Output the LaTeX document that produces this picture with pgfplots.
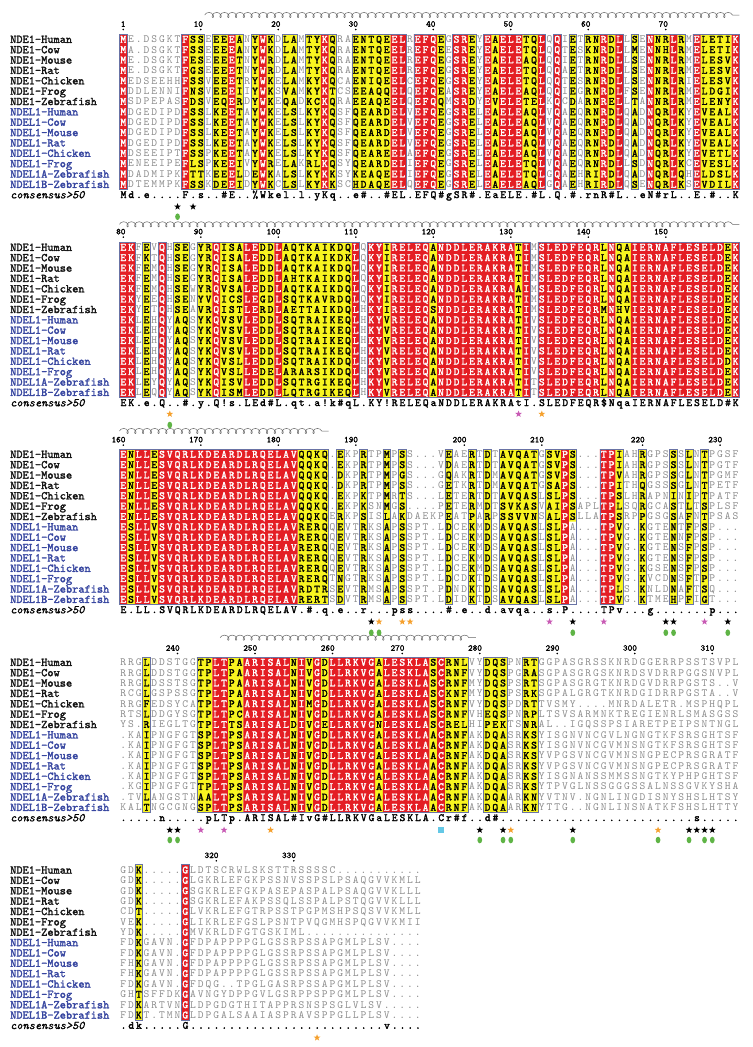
\documentclass[border=0pt]{standalone}
\usepackage{fontspec}
\usepackage{pgfplots}
\pgfplotsset{compat=1.18}
\usetikzlibrary{decorations.pathmorphing}

\newfontfamily\seqtt{lmmono10-regular.otf}
\newfontfamily\seqttb[FakeBold=2]{lmmono10-regular.otf}
\newfontfamily\seqtti[FakeBold=1]{lmmono10-italic.otf}

\definecolor{espred}{RGB}{228,30,36}
\definecolor{espyellow}{RGB}{248,244,32}
\definecolor{framecol}{RGB}{105,115,165}
\definecolor{seqgrey}{RGB}{140,140,140}
\definecolor{namek}{RGB}{20,20,20}
\definecolor{nameb}{RGB}{55,70,160}
\definecolor{starorange}{RGB}{245,160,45}
\definecolor{starmag}{RGB}{200,90,180}
\definecolor{dotgreen}{RGB}{95,180,70}
\definecolor{sqcyan}{RGB}{100,200,230}

\newcommand\seqfont{\fontsize{11}{11}\selectfont\seqtt}
\newcommand\seqboldfont{\fontsize{11}{11}\selectfont\seqttb}
\newcommand\namefont{\fontsize{11.8}{11.8}\selectfont\seqttb}
\newcommand\conslabfont{\fontsize{11.8}{11.8}\selectfont\seqtti}
\newcommand\rulerfont{\fontsize{8.8}{8.8}\selectfont\seqttb}

\def\pitch{10.36}
\def\yzA{39.3}\def\yzB{247.3}\def\yzC{454.3}\def\yzD{662.3}\def\yzE{870.0}

\makeatletter
\newcommand\seq[1]{\seq@loop#1\relax}
\def\seq@loop#1{\ifx\relax#1\else\makebox[7.75pt]{#1}\expandafter\seq@loop\fi}

\newcount\rowidx
\def\dr@end{}
\def\dr@endmark{\dr@end}
\newcommand\drawrows[3]{%
  \rowidx=0
  \def\dr@y{#2}%
  \tikzset{drstyle/.style={#3}}%
  \expandafter\dr@loop#1\dr@end}
\def\dr@loop#1{%
  \def\dr@arg{#1}%
  \ifx\dr@arg\dr@endmark
  \else
    \advance\rowidx by 1
    \pgfmathsetmacro\yy{\dr@y+(\the\rowidx-1)*\pitch+3.35}%
    \node[anchor=base west, inner sep=0pt, outer sep=0pt, drstyle] at (axis cs:0.5,\yy) {\seq{#1}};%
    \expandafter\dr@loop
  \fi}
\makeatother

\pgfdeclareplotmark{fstar}{%
  \pgfpathmoveto{\pgfpointpolar{90}{\pgfplotmarksize}}%
  \pgfpathlineto{\pgfpointpolar{126}{0.42\pgfplotmarksize}}%
  \pgfpathlineto{\pgfpointpolar{162}{\pgfplotmarksize}}%
  \pgfpathlineto{\pgfpointpolar{198}{0.42\pgfplotmarksize}}%
  \pgfpathlineto{\pgfpointpolar{234}{\pgfplotmarksize}}%
  \pgfpathlineto{\pgfpointpolar{270}{0.42\pgfplotmarksize}}%
  \pgfpathlineto{\pgfpointpolar{306}{\pgfplotmarksize}}%
  \pgfpathlineto{\pgfpointpolar{342}{0.42\pgfplotmarksize}}%
  \pgfpathlineto{\pgfpointpolar{18}{\pgfplotmarksize}}%
  \pgfpathlineto{\pgfpointpolar{54}{0.42\pgfplotmarksize}}%
  \pgfpathclose\pgfusepathqfill}
\pgfdeclareplotmark{ell}{%
  \pgfpathellipse{\pgfpointorigin}{\pgfqpoint{0.72\pgfplotmarksize}{0pt}}{\pgfqpoint{0pt}{\pgfplotmarksize}}%
  \pgfusepathqfill}

\tikzset{helix/.style={draw=black!60, line width=0.5pt, decorate,
  decoration={coil, aspect=0.9, segment length=7.75pt, amplitude=2.6pt}}}

\newcommand\buildpaths[3]{%
  \gdef\tmpcoords{}\gdef\tmpclip{}%
  \foreach \pA/\pB/\pC/\pD in {#1}{%
    \pgfmathsetmacro\tXa{\pA-0.5}\pgfmathsetmacro\tXb{\pB+0.5}%
    \pgfmathsetmacro\tYa{#2+(\pC-1.5)*\pitch}\pgfmathsetmacro\tYb{#2+(\pD-0.5)*\pitch}%
    \xdef\tmpcoords{\tmpcoords (\tXa,\tYa) (\tXb,\tYa) (\tXb,\tYb) (\tXa,\tYb) (\tXa,\tYa) (nan,nan)}%
    \xdef\tmpclip{\tmpclip (axis cs:\tXa,\tYa) rectangle (axis cs:\tXb,\tYb)}%
  }%
  \expandafter\global\expandafter\let\csname #3c\endcsname\tmpcoords
  \expandafter\global\expandafter\let\csname #3k\endcsname\tmpclip}

\newcommand\polyplot[2]{\edef\tmpp{\noexpand\addplot[\unexpanded{#1}] coordinates {#2};}\tmpp}

\newcommand\clipdraw[4]{%
  \begin{scope}%
    \edef\tmpclipcmd{\noexpand\clip #1;}\tmpclipcmd
    \drawrows{#2}{#3}{#4}%
  \end{scope}}

\def\names{NDE1-Human,NDE1-Cow,NDE1-Mouse,NDE1-Rat,NDE1-Chicken,NDE1-Frog,NDE1-Zebrafish,NDEL1-Human,NDEL1-Cow,NDEL1-Mouse,NDEL1-Rat,NDEL1-Chicken,NDEL1-Frog,NDEL1A-Zebrafish,NDEL1B-Zebrafish}

\newcommand\drawlabels[2]{%
  \foreach \nm [count=\i] in \names {%
    \pgfmathsetmacro\yy{#1+(\i-1)*\pitch+3.6}%
    \ifnum\i<8\relax\def\nc{namek}\else\def\nc{nameb}\fi
    \node[anchor=base west, inner sep=0pt, font=\namefont, text=\nc] at (axis cs:-13.62,\yy) {\nm};%
  }%
  \pgfmathsetmacro\yy{#1+15*\pitch+3.6}%
  \node[anchor=base west, inner sep=0pt, font=\conslabfont, text=black] at (axis cs:-13.62,\yy) {consensus>50};%
  \pgfmathsetmacro\yy{#1+15*\pitch+3.35}%
  \node[anchor=base west, inner sep=0pt, font=\seqboldfont, text=black] at (axis cs:0.5,\yy) {\expandafter\seq\expandafter{#2}};%
}

\newcommand\ruler[2]{%
  \foreach \c/\lab in {#1}{%
    \pgfmathsetmacro\cx{\c+0.3}%
    \node[anchor=base east, inner sep=0pt, font=\rulerfont] at (axis cs:\cx,#2) {\lab};}}

\def\rowsA{%
{ME.DSGKTFSSEEEEANYWKDLAMTYKQRAENTQEELREFQEGSREYEAELETQLQQIETRNRDLLSENNRLRMELETIK}%
{MA.DSGKTFSSEEEEANYWKDLAMTYKQRAENTQEELREFQEESREYEAELETQLQQTESKNRDLLMENNHLRMELETIK}%
{ME.DSGKTFESEEEETNYWRDLAMTYKQRAENTQEELREFQEGSREYEAELEAQLQQIETRNRDLLSENNRLRMELESVK}%
{ME.DSGKTFGSEEEETNYWRDLAMTYKQRAENTQEELREFQEGSREYEAELETQLQQAETRNRDLLSENNRLRMELESVK}%
{MEDSEEHHFSSVEEETRYWKELAMKYKQCAENIQEELCEFQEGSREYEAELETQLQQTESRNRDLLSENNRLRIELESVK}%
{MDDLENNIFNSVEEEIIYWKSVAMKYKTCSEEAQQELQEFQEASREYEAELEAQLQQIEGRNRDLFSENNRLRMELDGIK}%
{MSDPEPASFDSVEQERDYWKEQADKCKQRAEEAQEELQEFQQMSRDYEVELETELKQCDARNRELLTANNRLRMELENYK}%
{MDGEDIPDFSSLKEETAYWKELSLKYKQSFQEARDELVEFQEGSRELEAELEAQLVQAEQRNRDLQADNQRLKYEVEALK}%
{MDGEDIPDFSSLKEETAYWKELSLKYKQSFQEARDELVEFQEGSRELEAELEAQLVQAEQRNRDLQADNQRLKYEVEALK}%
{MDGEDIPDFSSLKEETAYWKELSLKYKQSFQEARDELVEFQEGSRELEAELEAQLVQAEQRNRDLQADNQRLKYEVEALK}%
{MDGEDIPDFSSLKEETAYWKELSLKYKQSFQEARDELVEFQEGSRELEAELEAQLVQAEQRNRDLQADNQRLKYEVEALK}%
{MDSEEIPTFSSPKEETAYWKELSLKYKQSFQEAREELAEFQEGSRELEAELEAQLVQAEQRNRDLQADNQRLKYEVETLK}%
{MENEEIPEFLSPKEEIVYWRELAKRLKQSYQEARDELIEFQEGSRELEAELETQLVQAEQRNRDLLSDNQRLKCEVESLK}%
{MDADMIPKFTTKEEELDEWKALSLKYKKSYKEAQEELIEFQEGSRELEAELETQLGQAEHRIRDLQADNQRLQHELDSLK}%
{MDTEMMPKFSSKDEEIDYWKCLSLKYKKSCHDAQEELQEFQEGSRELEAELEAQLGQAEHRIRDLQSENQRLKSEVDILK}}
\def\consA{Md.e....F.s..\#E..\%Wkel.l.yKq..e\#..\#EL.EFQ\#gSR\#.EaELE.\#L.Q.\#.rnR\#L..eN\#rL..E.\#..K}

\def\rowsB{%
{EKFEVQHSEGYRQISALEDDLAQTKAIKDQLQKYIRELEQANDDLERAKRATIMSLEDFEQRLNQAIERNAFLESELDEK}%
{EKFKTQHSEGYRQISALEDDLAQTKAIKDKLQKYIRELEQANDDLERAKRATIMSLEDFEQRLNQAIERNAFLESELDEK}%
{EKFEMQHSEGYRQISALEDDLAQTKAIKDQLQKYIRELEQANDDLERAKRATIMSLEDFEQRLNQAIERNAFLESELDEK}%
{EKFEMQHSEGYRQISALEDDLAHTKAIKDQLQKYIRELEQANDDLERAKRATIMSLEDFEQRLNQAIERNAFLESELDEK}%
{EKFEMQHSEWYRQVSALEDDLAQTKAIKDQLQKYIRELEQANDDLERAKRAAIMSLEDFEQRLNQAIERNAFLESELDEK}%
{EKYEEQHSENYVQICSLEGDLSQTKAVRDQLQKYIRELEQANDDLERAKRATIMSLEDFEQRLNQAIERNAFLESELDEK}%
{EKYETQHSEAVRQISTLERDLAETTAIKDQLHKYIRELEQSNDDLERAKRATIMSLEDFEQRMNHVIERNAFLESELDEK}%
{EKLEHQYAQSYKQVSVLEDDLSQTRAIKEQLHKYVRELEQANDDLERAKRATIVSLEDFEQRLNQAIERNAFLESELDEK}%
{EKLEHQYAQSYKQVSVLEDDLSQTRAIKEQLHKYVRELEQANDDLERAKRATIVSLEDFEQRLNQAIERNAFLESELDEK}%
{EKLEHQYAQSYKQVSVLEDDLSQTRAIKEQLHKYVRELEQANDDLERAKRATIVSLEDFEQRLNQAIERNAFLESELDEK}%
{EKLEHQYAQSYKQVSVLEDDLSQTRAIKEQLHKYVRELEQANDDLERAKRATIVSLEDFEQRLNQAIERNAFLESELDEK}%
{EKLEHQYAQSYKQVSLLEDDLSQTRAIKDQLHKYVRELEQANDDLERAKRATIVSLEDFEQRLNQAIERNAFLESELDDK}%
{EKLEHQYAQSYKQVSLLEDELARARSIKDQLHKYVRELEQANDDLERAKRATIVSLEDFEQRLNQAIERNAFLESELDEK}%
{EKLEYQYAQSYKQISVLEDDLSQTRGIKEQLHKYVRELEQANDDLERAKRATITSLEDFEQRLNQAIERNAFLESELDEK}%
{EKLEQQYAQSYKQISMLEDDLLQTRGIKEQLHKYVRELEQANDDLERAKRATITSLEDFEQRLNQAIERNAFLESELDEK}}
\def\consB{EK.e.Q..\#.y.Q!s.LEd\#L.qt.a!k\#qL.KY!RELEQaNDDLERAKRAtI.SLEDFEQR\$NqaIERNAFLESELD\#K}

\def\rowsC{%
{ENLLESVQRLKDEARDLRQELAVQQKQ.EKPRTPMPSS...VEAERTDTAVQATGSVPS...TPIAHRGPSSSLNTPGSF}%
{ENLLESVQRLKDEARDLRQELAVQQKQ.EKPRTPMPSS...VDAERTDTAVQATGSVPS...TPIAHRGPSSSLNTPGTF}%
{ENLLESVQRLKDEARDLRQELAVQQKQ.DKPRTPMPGS...GQAKRTDMAVQATGSVPS...TPVAHRGPSSGLNTPGMF}%
{ENLLESVQRLKDEARDLRQELAVQQKQ.DKPRTPMPSS...GETKRTDMAVQATGSAPS...TPITHQGSSSGLNTPETF}%
{ENLLESVQRLKDEARDLRQELAVQQKQ.EKPKTPMRTS...LETERTDTAVQASLSLPS...TPSLHRAPNINIPTPATF}%
{ENLLESVQRLKDEARDLRQELAVQQKQ.EKPKSNMGS....PETERMDTSVKASVAIPSAPLTPLSQRGCASTLTSPLSF}%
{ENLLESVQRLKDEARDLRQELAVQQKQERKPSISLAKDAEKPEATPARPSSVVNSALPSLLATPSRPPGSGSAFNTPSAS}%
{ESLLVSVQRLKDEARDLRQELAVRERQQEVTRKSAPSSPT.LDCEKMDSAVQASLSLPA...TPVG.KGTENTFPSP...}%
{ESLLVSVQRLKDEARDLRQELAVRERQQEVTRKSAPSSPT.LDCEKMDSAVQASLSLPA...TPVG.KGTENNFPSP...}%
{ESLLVSVQRLKDEARDLRQELAVRERQQEVTRKSAPSSPT.LDCEKMDSAVQASLSLPA...TPVG.KGTENSFPSP...}%
{ESLLVSVQRLKDEARDLRQELAVRERQQEVTRKSAPSSPT.LDCEKMDSAVQASLSLPA...TPVG.KGTENSFPSP...}%
{ESLLVSVQRLKDEARDLRQELAVRERQQEVTRKSAPSSPT.LDCEKMDSAVQASLSLPA...TPVG.KGSENSFPSP...}%
{ESLLVSVQRLKDEARDLRQELAVRERQTNGTRKSAPSSPT.LDCDKTDSAVQASLSLPA...TPVG.KVCDNSFTPP...}%
{ESLLVSVQRLKDEARDLRQELAVRDTRSEVTRMSAPSSPT.PDNDKTDSAVQASLSLPA...TPLS.KNLDNAFTSQ...}%
{ESLLVSVQRLKDEARDLRQELAVRERTSDVTRMSAPSSPT.LDIDKTDSAVQASLSLPA...TPVG.KTMEHPFIGT...}}
\def\consC{E.LL.SVQRLKDEARDLRQELAV.\#.q.e..r...pss....\#.e..d.avqa..s.P....TPv...g.......p...}

\def\rowsD{%
{RRGLDDSTGGTPLTPAARISALNIVGDLLRKVGALESKLASCRNLVYDQSPNRTGGPASGRSSKNRDGGERRPSSTSVPL}%
{RRGLDDSTGGTPLTPAARISALNIVGDLLRKVGALESKLASCRNFVYDQSPGRASGPASGRGSKNRDSVDRRPGGSNVPL}%
{RRGLDSSTSGTPLTPAARISALNIVGDLLRKVGALESKLASCRNFMYDQSPSRTSGPASGRGTKNRDGVDRRPGSTS..V}%
{RCGLGSPSSGTPLTPAARISALNIVGDLLRKVGALESKLASCKNFMYDQSPSRKSGPALGRGTKNRDGIDRRPGSTA..V}%
{RRGFEDSYCATPLTPAARISALNIMGDLLRKVGALESKLASCRNFVYDQSPDRTTVSMY....MNRDALETR.MSPHQPL}%
{RTSLDDGYSGTPLTPCARISALNIVGDLLRKVGALESKLASCRNFVHEQSPNRPLTSVSARMNKTREGIENRLSMASGSS}%
{YS.RIEGLTGTPLTTSARISALDIVGELLRKVGNLESKLASCRELHIPEKTSNRAL..IGQSSPSIARETPEIPSNTNGL}%
{.KAIPNGFGTSPLTPSARISALNIVGDLLRKVGALESKLAACRNFAKDQASRKSYISGNVNCGVLNGNGTKFSRSGHTSF}%
{.KAIPNGFGTSPLTPSARISALNIVGDLLRKVGALESKLAACRNFAKDQASRKSYISGNVNCGVMNSNGTKFSRSGHTSF}%
{.KAIPNGFGTSPLTPSARISALNIVGDLLRKVGALESKLAACRNFAKDQASRKSYVPGSVNCGVMNSNGPECPRSGRATF}%
{.KAIPNGFGTSPLTPSARISALNIVGDLLRKVGALESKLAACRNFAKDQASRKSYVPGSVNCGVMNSNGPECPRSGRATF}%
{.KAIPNGFGTSPLTPSARISALNIVGDLLRKVGALESKLAACRNFAKDQASRKSYISGNANSSMMSSNGTKYPHPGHTSF}%
{.KGIPNGFGTTPLTPSARISALNIVGDLLRKVGALESKLAACRNFAKDQASRKSYTPVGLNSSGGGSSALNSSGVKYSHA}%
{.TVLANGSTNAALTPSARISALNIVGDLLRKVGALESKLAACRNFAKDQAARKNYVTNV.NGNLINGDISNYSHSLHTSY}%
{KALTNGCGNGSPLTPSARISALNIVGDLLRKVGALESKLAACRNFAKDQAARKNYTTG..NGNLINSNATKFSHSLHTTY}}
\def\consD{.....n.....pLTp.ARISAL\#IvG\#LLRKVGaLESKLA.Cr\#f..d\#.........................s.....}

\def\rowsE{%
{GDK.....GLDTSCRWLSKSTTRSSSSC...........}%
{GDK.....GLGKRLEFGKPSSNVSSPSLPSAQGVVKMLL}%
{GDK.....GSGKRLEFGKPASEPASPALPSAQGVVKLLL}%
{GDK.....GSGKRLEFAKPSSQLSSPALPSTQGVVKLLL}%
{CDT.....GLVKRLEFGTRPSSTPGPMSHPSQSVVKMLL}%
{VEK.....GLIKRLEFGSLPSNTPVQGMHSPQGVVKMII}%
{YDK.....GMVKRLDFGTGSKIML...............}%
{FDKGAVN.GFDPAPPPPGLGSSRPSSAPGMLPLSV....}%
{FDKGAVN.GFDPAPPPPGLGSSRPSSAPGMLPLSV....}%
{FHKGAVN.GFDPAPPPPGLGSSRPSSAPGMLPLSV....}%
{FHKGAVN.GFDPAPPPPGLGSSRPSSAPGMLPLSV....}%
{FDKGAVN.GFDQG..TPGLGASRPSSAPGMLPLSV....}%
{GHTSFFDKGAVNGYDPPGVLGSRPPSPPGMLPLSV....}%
{FDKARTVNGLDPGDGTHITAPPRSNSPSGLVLSV.....}%
{FDKT.TMNGLDPGALSAAIASPRAVSPPGLLPLSV....}}
\def\consE{.dk.....G.........................v....}

\buildpaths{1/1/1/15,9/9/1/15,15/15/1/15,19/19/1/15,27/27/1/15,36/37/1/15,39/41/1/15,44/45/1/15,48/48/1/15,50/52/1/15,55/55/1/15,57/57/1/15,63/63/1/15,65/65/1/15,69/69/1/15,72/72/1/15,75/75/1/15,80/80/1/15}{\yzA}{AR}
\buildpaths{10/11/1/15,13/14/1/15,16/16/1/15,18/18/1/15,20/20/1/15,22/23/1/15,25/26/1/15,28/28/1/15,31/35/1/15,42/42/1/15,46/46/1/15,49/49/1/15,53/54/1/15,59/59/1/15,61/62/1/15,64/64/1/15,67/67/1/15,70/71/1/15,73/73/1/15,76/79/1/15}{\yzA}{AY}
\buildpaths{1/1/1/15,9/11/1/15,13/16/1/15,18/20/1/15,22/23/1/15,25/28/1/15,31/37/1/15,39/42/1/15,44/46/1/15,48/55/1/15,57/57/1/15,59/59/1/15,61/65/1/15,67/67/1/15,69/73/1/15,75/80/1/15}{\yzA}{AF}
\buildpaths{1/2/1/15,6/6/1/15,13/13/1/15,17/18/1/15,21/21/1/15,31/31/1/15,33/34/1/15,36/40/1/15,42/51/1/15,53/53/1/15,55/62/1/15,64/64/1/15,67/78/1/15,80/80/1/15}{\yzB}{BR}
\buildpaths{4/4/1/15,8/9/1/15,11/12/1/15,14/16/1/15,19/20/1/15,22/30/1/15,35/35/1/15,41/41/1/15,52/52/1/15,63/63/1/15,65/66/1/15,79/79/1/15}{\yzB}{BY}
\buildpaths{1/2/1/15,4/4/1/15,6/6/1/15,8/9/1/15,11/31/1/15,33/53/1/15,55/80/1/15}{\yzB}{BF}
\buildpaths{1/1/1/15,3/4/1/15,6/23/1/15,58/58/1/15,63/64/1/15}{\yzC}{CR}
\buildpaths{2/2/1/15,5/5/1/15,24/27/1/15,29/29/1/15,32/32/1/15,35/35/1/15,37/37/1/15,43/43/1/15,46/46/1/15,48/48/1/15,50/54/1/15,56/57/1/15,59/59/1/7,65/65/1/15,68/68/1/15,72/72/1/15,74/74/1/15,76/76/1/15}{\yzC}{CY}
\buildpaths{1/27/1/15,29/29/1/15,32/32/1/15,35/35/1/15,37/37/1/15,43/43/1/15,46/46/1/15,48/48/1/15,50/54/1/15,56/59/1/15,63/65/1/15,68/68/1/15,72/72/1/15,74/74/1/15,76/76/1/15}{\yzC}{CF}
\buildpaths{13/14/1/15,17/22/1/15,24/24/1/15,26/26/1/15,28/33/1/15,35/40/1/15,42/42/1/15}{\yzD}{DR}
\buildpaths{4/4/1/15,11/12/1/15,15/16/1/15,23/23/1/15,25/25/1/15,27/27/1/15,34/34/1/15,41/41/1/15,43/45/1/15,48/50/1/15,53/54/1/15}{\yzD}{DY}
\buildpaths{4/4/1/15,11/45/1/15,48/50/1/15,53/54/1/15}{\yzD}{DF}
\buildpaths{9/9/1/15}{\yzE}{ER}
\buildpaths{3/3/1/15}{\yzE}{EY}
\buildpaths{3/3/1/15,9/9/1/15}{\yzE}{EF}

\begin{document}%
\begin{tikzpicture}
\begin{axis}[
  x=7.75pt, y=1pt, y dir=reverse,
  xmin=-14.91, xmax=82.25, ymin=0, ymax=1047,
  enlargelimits=false, hide axis, clip=false,
  anchor=north west, at={(0,0)}]

\pgfplotsextra{%
  \coordinate (bbA) at (axis cs:-14.91,0);%
  \coordinate (bbB) at (axis cs:82.25,1047);%
  \drawrows{\rowsA}{\yzA}{font=\seqfont, text=seqgrey}%
  \drawrows{\rowsB}{\yzB}{font=\seqfont, text=seqgrey}%
  \drawrows{\rowsC}{\yzC}{font=\seqfont, text=seqgrey}%
  \drawrows{\rowsD}{\yzD}{font=\seqfont, text=seqgrey}%
  \drawrows{\rowsE}{\yzE}{font=\seqfont, text=seqgrey}%
}

\polyplot{fill=espyellow, draw=none, unbounded coords=jump}{\AYc}
\polyplot{fill=espred, draw=none, unbounded coords=jump}{\ARc}
\polyplot{fill=espyellow, draw=none, unbounded coords=jump}{\BYc}
\polyplot{fill=espred, draw=none, unbounded coords=jump}{\BRc}
\polyplot{fill=espyellow, draw=none, unbounded coords=jump}{\CYc}
\polyplot{fill=espred, draw=none, unbounded coords=jump}{\CRc}
\polyplot{fill=espyellow, draw=none, unbounded coords=jump}{\DYc}
\polyplot{fill=espred, draw=none, unbounded coords=jump}{\DRc}
\polyplot{fill=espyellow, draw=none, unbounded coords=jump}{\EYc}
\polyplot{fill=espred, draw=none, unbounded coords=jump}{\ERc}

\pgfplotsextra{%
  \clipdraw{\ARk}{\rowsA}{\yzA}{font=\seqboldfont, text=white}%
  \clipdraw{\AYk}{\rowsA}{\yzA}{font=\seqboldfont, text=black}%
  \clipdraw{\BRk}{\rowsB}{\yzB}{font=\seqboldfont, text=white}%
  \clipdraw{\BYk}{\rowsB}{\yzB}{font=\seqboldfont, text=black}%
  \clipdraw{\CRk}{\rowsC}{\yzC}{font=\seqboldfont, text=white}%
  \clipdraw{\CYk}{\rowsC}{\yzC}{font=\seqboldfont, text=black}%
  \clipdraw{\DRk}{\rowsD}{\yzD}{font=\seqboldfont, text=white}%
  \clipdraw{\DYk}{\rowsD}{\yzD}{font=\seqboldfont, text=black}%
  \clipdraw{\ERk}{\rowsE}{\yzE}{font=\seqboldfont, text=white}%
  \clipdraw{\EYk}{\rowsE}{\yzE}{font=\seqboldfont, text=black}%
}

\polyplot{draw=framecol, line width=0.7pt, unbounded coords=jump}{\AFc}
\polyplot{draw=framecol, line width=0.7pt, unbounded coords=jump}{\BFc}
\polyplot{draw=framecol, line width=0.7pt, unbounded coords=jump}{\CFc}
\polyplot{draw=framecol, line width=0.7pt, unbounded coords=jump}{\DFc}
\polyplot{draw=framecol, line width=0.7pt, unbounded coords=jump}{\EFc}

\pgfplotsextra{%
  \drawlabels{\yzA}{\consA}%
  \drawlabels{\yzB}{\consB}%
  \drawlabels{\yzC}{\consC}%
  \drawlabels{\yzD}{\consD}%
  \drawlabels{\yzE}{\consE}%
  \ruler{1/1,11/10,21/20,31/30,41/40,51/50,61/60,71/70}{26.7}%
  \ruler{1/80,11/90,21/100,31/110,41/120,51/130,61/140,71/150}{234.3}%
  \ruler{1/160,11/170,21/180,31/190,45/200,55/210,68/220,78/230}{442.3}%
  \ruler{8/240,18/250,28/260,37/270,47/280,57/290,67/300,77/310}{650.7}%
  \ruler{13/320,23/330}{858}%
  \draw[helix] (axis cs:11.5,15) -- (axis cs:80.5,15);%
  \draw[helix] (axis cs:0.5,224.3) -- (axis cs:80.5,224.3);%
  \draw[helix] (axis cs:0.5,431) -- (axis cs:27.5,431);%
  \draw[helix] (axis cs:13.5,637.7) -- (axis cs:46.5,637.7);%
}

\addplot[only marks, mark=*, mark size=0.55pt, black] coordinates {
 (1,29.5)(11,29.5)(21,29.5)(31,29.5)(41,29.5)(51,29.5)(61,29.5)(71,29.5)
 (1,237.1)(11,237.1)(21,237.1)(31,237.1)(41,237.1)(51,237.1)(61,237.1)(71,237.1)
 (1,445.1)(11,445.1)(21,445.1)(31,445.1)(45,445.1)(55,445.1)(68,445.1)(78,445.1)
 (8,653.5)(18,653.5)(28,653.5)(37,653.5)(47,653.5)(57,653.5)(67,653.5)(77,653.5)
 (13,860.8)(23,860.8)};

\addplot[only marks, mark=fstar, mark size=3.5pt, black] coordinates {
 (8,206.7)(10,206.7)
 (33,621.7)(59,621.7)(71,621.7)(72,621.7)(79,621.7)
 (7,830)(8,830)(47,830)(50,830)(59,830)(74,830)(75,830)(76,830)(77,830)};
\addplot[only marks, mark=fstar, mark size=3.5pt, starorange] coordinates {
 (7,414)(55,414)
 (34,621.7)(37,621.7)(38,621.7)
 (20,830)(51,830)(70,830)
 (26,1037.7)};
\addplot[only marks, mark=fstar, mark size=3.5pt, starmag] coordinates {
 (52,414)
 (56,621.7)(63,621.7)(76,621.7)
 (11,830)(14,830)};
\addplot[only marks, mark=ell, mark size=3.3pt, dotgreen] coordinates {
 (8,216.7)
 (7,425)
 (33,632.7)(34,632.7)(59,632.7)(71,632.7)(72,632.7)(79,632.7)
 (7,840)(8,840)(47,840)(50,840)(51,840)(59,840)(70,840)(74,840)(76,840)(77,840)};
\addplot[only marks, mark=square*, mark size=2.4pt, sqcyan] coordinates {(42,830)};

\end{axis}
\pgfresetboundingbox
\path[use as bounding box] (bbA) rectangle (bbB);
\end{tikzpicture}%
\end{document}
